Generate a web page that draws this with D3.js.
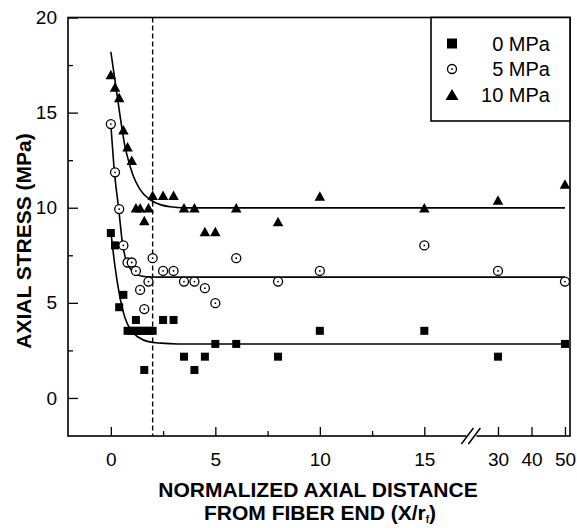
<!DOCTYPE html>
<html>
<head>
<meta charset="utf-8">
<script src="https://cdn.jsdelivr.net/npm/d3@7/dist/d3.min.js"></script>
<style>
  html, body { margin: 0; padding: 0; background: #fff; }
  svg { display: block; }
  text { font-family: "Liberation Sans", Arial, Helvetica, sans-serif; fill: #000; }
</style>
</head>
<body>
<svg id="chart" width="577" height="528"></svg>
<script>
// ---------------- data ----------------
const xValues = [0, 0.2, 0.4, 0.6, 0.8, 1.0, 1.2, 1.4, 1.6, 1.8, 2.0, 2.5, 3.0, 3.5, 4.0, 4.5, 5.0, 6, 8, 10, 15, 30, 50];
const stress10 = [17.0, 16.35, 15.8, 14.1, 13.2, 12.5, 10.0, 10.0, 9.33, 10.0, 10.65, 10.65, 10.65, 10.0, 10.0, 8.75, 8.75, 10.0, 9.28, 10.62, 10.0, 10.4, 11.25];
const stress5  = [14.4, 11.86, 9.93, 8.02, 7.12, 7.12, 6.68, 5.68, 4.67, 6.12, 7.35, 6.68, 6.68, 6.12, 6.12, 5.77, 4.98, 7.35, 6.12, 6.68, 8.02, 6.68, 6.12];
const x0MPa = [0, 0.2, 0.4, 0.6, 0.8, 1.0, 1.2, 1.4, 1.6, 1.8, 2.0, 2.5, 3.0, 3.5, 4.0, 4.5, 5.0, 6, 8, 10, 15, 30, 50];
const stress0  = [8.67, 8.02, 4.77, 5.42, 3.53, 3.53, 4.1, 3.53, 1.47, 3.53, 3.53, 4.1, 4.1, 2.17, 1.47, 2.17, 2.84, 2.84, 2.17, 3.53, 3.53, 2.17, 2.84];
const x0MPaExtra = [1.2, 1.6];
const stress0Extra = [3.53, 3.53];

// fitted curves
const fit10X = [0, 0.25, 0.5, 0.68, 0.84, 1.08, 1.4, 1.88, 2.4, 2.84, 3.5, 50];
const fit10Y = [18.2, 16.3, 14.4, 13.2, 12.5, 11.65, 10.95, 10.42, 10.15, 10.05, 9.99, 9.99];
const fit5X = [0, 0.17, 0.38, 0.56, 0.7, 0.84, 1.0, 1.2, 1.5, 2.0, 2.6, 50];
const fit5Y = [14.4, 11.9, 9.9, 8.1, 7.35, 6.95, 6.7, 6.52, 6.4, 6.36, 6.35, 6.35];
const fit0X = [0, 0.2, 0.4, 0.68, 1.0, 1.32, 1.8, 2.4, 3.2, 50];
const fit0Y = [8.75, 6.9, 5.5, 4.2, 3.5, 3.19, 2.96, 2.88, 2.84, 2.84];

const xMajorTicks = [0, 5, 10, 15, 30, 40, 50];
const xMinorTicks = [2.5, 7.5, 12.5];
const yMajorTicks = [0, 5, 10, 15, 20];
const yMinorTicks = [2.5, 7.5, 12.5, 17.5];
const legendLabels = ["0 MPa", "5 MPa", "10 MPa"];
const dashedX = 2;

// ---------------- layout ----------------
const L = 68, R = 570, T = 17.5, B = 436;
const breakPx = 472.4;
const x = d3.scaleLinear().domain([-2.05, 17.3, 22.36, 51.5]).range([L, breakPx, breakPx, R]);
const y = d3.scaleLinear().domain([-2, 20]).range([B, T]);

const svg = d3.select("#chart");
const zip = (xs, ys) => xs.map((v, i) => [v, ys[i]]);

// axes with inward ticks
const xAxis = svg.append("g").attr("transform", `translate(0,${B})`)
  .call(d3.axisBottom(x).tickValues(xMajorTicks).tickSize(-9).tickPadding(17).tickFormat(d3.format("d")));
const xAxisMinor = svg.append("g").attr("transform", `translate(0,${B})`)
  .call(d3.axisBottom(x).tickValues(xMinorTicks).tickSize(-5).tickFormat(""));
const yAxis = svg.append("g").attr("transform", `translate(${L},0)`)
  .call(d3.axisLeft(y).tickValues(yMajorTicks).tickSize(-10).tickPadding(11).tickFormat(d3.format("d")));
const yAxisMinor = svg.append("g").attr("transform", `translate(${L},0)`)
  .call(d3.axisLeft(y).tickValues(yMinorTicks).tickSize(-5).tickFormat(""));
[xAxis, xAxisMinor, yAxis, yAxisMinor].forEach(g => {
  g.select(".domain").remove();
  g.selectAll("line").attr("stroke", "#000").attr("stroke-width", 1.3);
  g.selectAll("text").style("font-size", "19px").style("font-family", '"Liberation Sans", Arial, sans-serif').attr("fill", "#000");
});

// frame
svg.append("rect").attr("x", L).attr("y", T).attr("width", R - L).attr("height", B - T)
  .attr("fill", "none").attr("stroke", "#000").attr("stroke-width", 1.6);

// axis break
svg.append("rect").attr("x", breakPx - 6).attr("y", B - 3).attr("width", 10).attr("height", 6).attr("fill", "#fff");
[[-11, -4], [-4, 3]].forEach(([a, b]) => {
  svg.append("line").attr("x1", breakPx + a).attr("y1", B + 8).attr("x2", breakPx + b + 5).attr("y2", B - 8)
    .attr("stroke", "#000").attr("stroke-width", 1.5);
});

// dashed line
svg.append("line").attr("x1", x(dashedX)).attr("x2", x(dashedX)).attr("y1", T).attr("y2", B)
  .attr("stroke", "#000").attr("stroke-width", 1.4).attr("stroke-dasharray", "5,3");

// fit curves
const line = d3.line().x(d => x(d[0])).y(d => y(d[1])).curve(d3.curveMonotoneX);
[[fit10X, fit10Y], [fit5X, fit5Y], [fit0X, fit0Y]].forEach(([xs, ys]) => {
  svg.append("path").datum(zip(xs, ys)).attr("d", line)
    .attr("fill", "none").attr("stroke", "#000").attr("stroke-width", 1.6);
});

// markers
const tri = (w, h) => `M0,${-h / 2}L${w / 2},${h / 2}L${-w / 2},${h / 2}Z`;
function drawSquare(g, cx, cy, s) {
  g.append("rect").attr("x", cx - s / 2).attr("y", cy - s / 2).attr("width", s).attr("height", s).attr("fill", "#000");
}
function drawCircle(g, cx, cy, r) {
  g.append("circle").attr("cx", cx).attr("cy", cy).attr("r", r).attr("fill", "#fff").attr("stroke", "#000").attr("stroke-width", 1.3);
  g.append("circle").attr("cx", cx).attr("cy", cy).attr("r", 0.9).attr("fill", "#000");
}
function drawTri(g, cx, cy, w, h) {
  g.append("path").attr("d", tri(w, h)).attr("transform", `translate(${cx},${cy})`).attr("fill", "#000");
}
const marks = svg.append("g");
zip(x0MPa, stress0).concat(zip(x0MPaExtra, stress0Extra)).forEach(d => drawSquare(marks, x(d[0]), y(d[1]), 8));
zip(xValues, stress5).forEach(d => drawCircle(marks, x(d[0]), y(d[1]), 4.5));
zip(xValues, stress10).forEach(d => drawTri(marks, x(d[0]), y(d[1]), 10.5, 9.5));

// legend
const lg = svg.append("g");
lg.append("rect").attr("x", 431).attr("y", T).attr("width", R - 431).attr("height", 103.5)
  .attr("fill", "#fff").attr("stroke", "#000").attr("stroke-width", 1.6);
const ly = [43.5, 69, 94.5];
drawSquare(lg, 452, ly[0], 10);
drawCircle(lg, 452, ly[1], 4.5);
drawTri(lg, 452, ly[2], 13, 11);
legendLabels.forEach((t, i) => {
  lg.append("text").attr("x", 550).attr("y", ly[i] + 7).attr("text-anchor", "end")
    .style("font-size", "20px").text(t);
});

// axis titles
svg.append("text").attr("transform", "translate(23,241) rotate(-90)").attr("text-anchor", "middle")
  .attr("dy", "0.36em").style("font-size", "21px").style("font-weight", "bold").text("AXIAL STRESS (MPa)");
svg.append("text").attr("x", 318).attr("y", 497).attr("text-anchor", "middle")
  .style("font-size", "21px").style("font-weight", "bold").text("NORMALIZED AXIAL DISTANCE");
const t2 = svg.append("text").attr("x", 320).attr("y", 520).attr("text-anchor", "middle")
  .style("font-size", "21px").style("font-weight", "bold");
t2.append("tspan").text("FROM FIBER END (X/r");
t2.append("tspan").attr("dy", 3).style("font-size", "10px").text("f");
t2.append("tspan").attr("dy", -3).text(")");
</script>
</body>
</html>
